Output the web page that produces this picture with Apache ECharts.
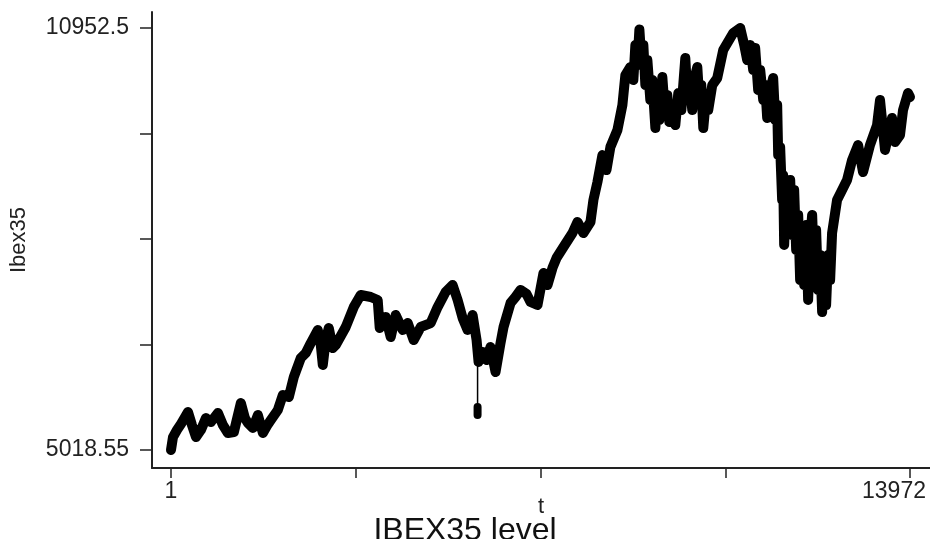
<!DOCTYPE html>
<html><head><meta charset="utf-8">
<script src="https://cdn.jsdelivr.net/npm/echarts@6/dist/echarts.min.js"></script>
<style>html,body{margin:0;padding:0;background:#fff}#c{width:930px;height:539px}</style>
</head><body><div id="c"></div>
<script>
const tValues = [1,39,114,190,322,397,473,567,662,756,
888,982,1077,1190,1322,1398,1455,1549,1644,1738,
1813,1889,2021,2115,2229,2323,2455,2550,2644,2776,
2833,2871,2927,2984,3060,3116,3305,3456,3588,3777,
3909,3947,4060,4155,4249,4381,4476,4589,4721,4910,
5042,5193,5325,5420,5514,5609,5703,5778,5816,5891,
5967,6042,6137,6231,6288,6420,6514,6609,6722,6798,
6930,7043,7119,7213,7289,7421,7591,7685,7798,7931,
7987,8063,8157,8233,8308,8441,8535,8591,
8686,8742,8780,8818,8856,8893,8931,8969,9007,9063,
9101,9158,9196,9233,9290,9328,9384,9422,9479,9535,
9592,9649,9724,9762,9800,9856,9913,9951,9989,10026,
10064,10121,10158,10234,10328,
10441,10630,10762,10838,10894,10951,11008,11045,11102,11140,
11197,11234,11272,11329,11385,11423,11461,
11480,11517,11555,11574,11593,11631,11669,11707,11744,11782,
11820,11858,11895,11933,11971,12009,12046,12084,12122,12160,
12197,12235,12273,12311,12348,12386,12424,12462,12499,
12593,12688,12782,12877,12990,13084,13216,13349,13405,13500,
13632,13689,13783,13840,13934,13972];
const ibexValues = [5018.55,5200,5300,5385,5553,5370,5201,5300,5468,5412,
5539,5370,5258,5272,5679,5468,5398,5328,5511,5258,
5356,5440,5581,5792,5764,6045,6312,6382,6523,6706,
6495,6214,6565,6734,6453,6495,6748,7029,7198,7170,
7128,6734,6889,6607,6917,6706,6804,6565,6748,6804,
7029,7240,7339,7128,6875,6706,6917,6565,6256,6397,
6284,6467,6115,6523,6748,7085,7170,7268,7212,7100,
7057,7507,7339,7578,7718,7873,8070,8225,8070,8225,
8534,8787,9166,8955,9279,9518,9870,10291,
10404,10221,10713,10432,10930,10502,10713,10150,10502,9940,
10221,9546,10010,9659,10263,9870,10010,9630,9799,9588,
10038,9799,10530,10010,10221,9799,10291,10404,9940,10150,
9546,10010,9799,10150,10249,
10643,10882,10952.5,10713,10502,10713,10361,10671,10080,10361,
9940,10150,9687,10080,10249,9659,9870,
9166,9279,8534,8885,7901,8674,8112,8815,8042,8674,
7831,8323,7409,8042,7339,8182,7128,7971,8323,7550,
8112,7268,7760,6959,7690,7057,7760,7409,8070,
8534,8674,8815,9096,9307,8927,9307,9588,9940,9237,
9687,9349,9448,9799,10038,9982];
const spikeT = [5797, 5797];
const spikeLineValues = [6214, 5511];
const spikeBlockValues = [5623, 5511];
const yTicks = [5018.55, 6502.04, 7985.53, 9469.01, 10952.5];
const yTickLabels = [5018.55, 10952.5];
const xTicks = [1, 3493.75, 6986.5, 10479.25, 13972];
const xTickLabels = [1, 13972];

const zip = (a, b) => a.map((v, i) => [v, b[i]]);
const chart = echarts.init(document.getElementById('c'), null, {renderer: 'canvas'});
const font = 'Liberation Sans, Arial, sans-serif';
chart.setOption({
  animation: false,
  backgroundColor: '#fff',
  title: {
    text: 'IBEX35 level', left: 'center', top: 510,
    textStyle: {fontFamily: font, fontSize: 32, fontWeight: 'normal', color: '#111'}
  },
  grid: {left: 151, right: 0, top: 12, bottom: 71},
  xAxis: {
    type: 'value', min: -358, max: 14350,
    name: 't', nameLocation: 'middle', nameGap: 28, nameMoveOverlap: false,
    nameTextStyle: {fontFamily: font, fontSize: 22, color: '#222'},
    axisLine: {show: true, onZero: false, lineStyle: {color: '#222', width: 2}},
    axisTick: {show: true, length: 10, customValues: xTicks, lineStyle: {color: '#222', width: 1.5}},
    axisLabel: {
      customValues: xTickLabels, margin: 12, fontFamily: font, fontSize: 23, color: '#222',
      formatter: v => v === 13972 ? '{m|' + v + '}' : String(v),
      rich: {m: {fontFamily: font, fontSize: 23, color: '#222', padding: [0, 32, 0, 0]}}
    },
    splitLine: {show: false}
  },
  yAxis: {
    type: 'value', min: 4765.5, max: 11177.5,
    name: 'Ibex35', nameLocation: 'middle', nameGap: 122, nameRotate: 90, nameMoveOverlap: false,
    nameTextStyle: {fontFamily: font, fontSize: 22, color: '#222'},
    axisLine: {show: true, onZero: false, lineStyle: {color: '#222', width: 2}},
    axisTick: {show: true, length: 12, customValues: yTicks, lineStyle: {color: '#222', width: 1.5}},
    axisLabel: {
      customValues: yTickLabels, margin: 23, fontFamily: font, fontSize: 23, color: '#222',
      formatter: v => String(v)
    },
    splitLine: {show: false}
  },
  series: [
    {
      type: 'line', data: zip(tValues, ibexValues), showSymbol: false, symbol: 'none',
      lineStyle: {color: '#000', width: 10, cap: 'round', join: 'round'}
    },
    {
      type: 'line', data: zip(spikeT, spikeLineValues), showSymbol: false, symbol: 'none',
      lineStyle: {color: '#000', width: 1.5}
    },
    {
      type: 'line', data: zip(spikeT, spikeBlockValues), showSymbol: false, symbol: 'none',
      lineStyle: {color: '#000', width: 8, cap: 'round', join: 'round'}
    }
  ]
});
</script>
</body></html>
